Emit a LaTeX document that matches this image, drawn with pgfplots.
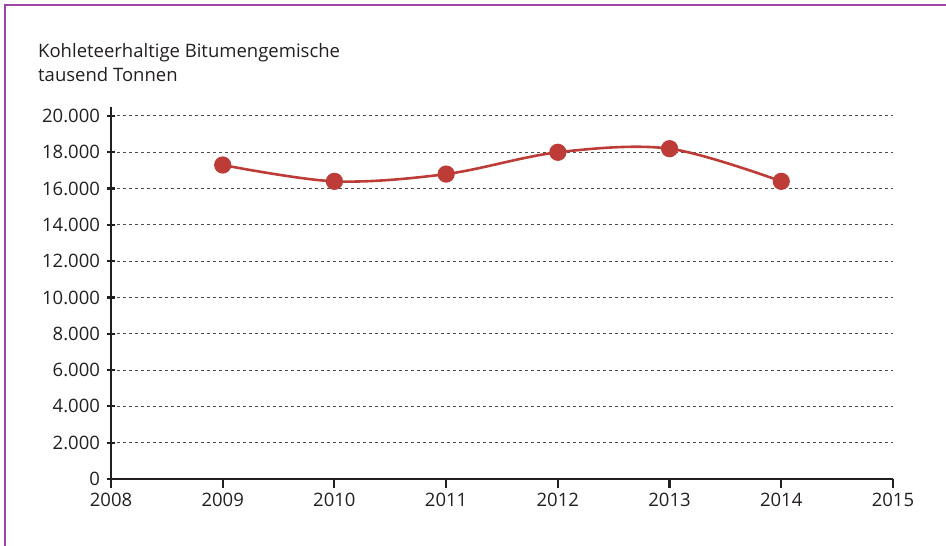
\documentclass[border=0pt]{standalone}
\usepackage{fontspec}
\setmainfont{Open Sans}
\usepackage{pgfplots}
\pgfplotsset{compat=1.18}
\definecolor{linered}{HTML}{BE3C37}
\definecolor{framepurple}{HTML}{9B45A5}
\definecolor{txt}{HTML}{231F20}
\begin{document}
\begin{tikzpicture}[x=1pt,y=1pt]
\useasboundingbox (0,0) rectangle (946,546);
\draw[framepurple, line width=1.5pt] (5,0) -- (5,541) -- (946,541);
\node[anchor=base west, align=left, font=\fontsize{18.5}{23}\selectfont, text=txt, inner sep=0pt] at (38,488) {Kohleteerhaltige Bitumengemische};
\node[anchor=base west, align=left, font=\fontsize{18.5}{23}\selectfont, text=txt, inner sep=0pt] at (38,464) {tausend Tonnen};
\begin{axis}[
  at={(111pt,67pt)}, anchor=south west,
  scale only axis, width=782pt, height=372pt,
  xmin=2008, xmax=2015, ymin=0, ymax=20496,
  axis x line=bottom, axis y line=left,
  axis line style={line width=2.5pt, txt, -},
  xtick={2008,...,2015},
  ytick={0,2000,...,20000},
  ymajorgrids,
  grid style={dash pattern=on 3pt off 3pt, line width=1pt, black!70},
  tick style={line width=2.2pt, txt},
  major tick length=9pt,
  xtick align=outside, ytick align=center,
  ticklabel style={font=\fontsize{18.5}{22}\selectfont, text=txt},
  /pgf/number format/assume math mode=true,
  xticklabel style={/pgf/number format/1000 sep={}, yshift=-2pt},
  yticklabel style={/pgf/number format/1000 sep={.}, xshift=-3pt},
  scaled y ticks=false,
  clip=false,
]
\addplot[linered, line width=2.6pt, smooth, tension=0.55, mark=*, mark size=7.3pt, mark options={fill=linered, draw=linered}]
coordinates {(2009,17300) (2010,16400) (2011,16800) (2012,18000) (2013,18200) (2014,16400)};
\end{axis}
\end{tikzpicture}
\end{document}
